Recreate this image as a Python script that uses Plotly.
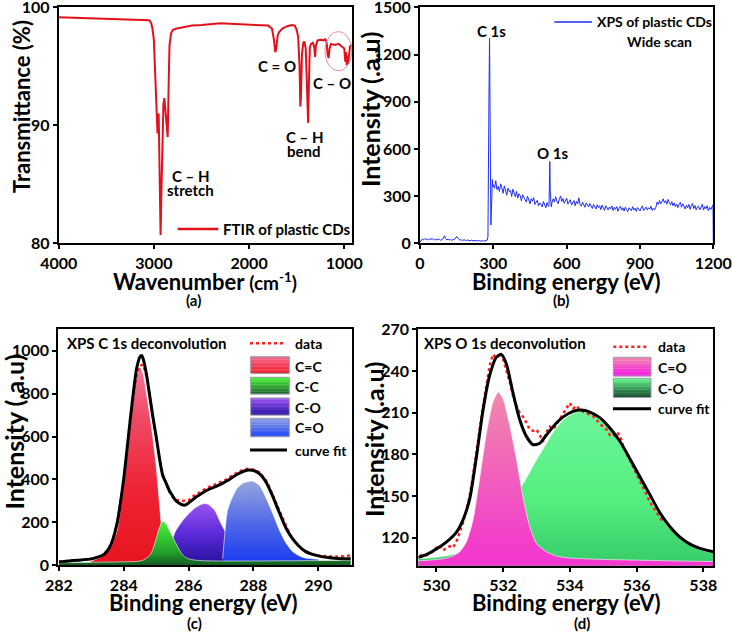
import plotly.graph_objects as go

W, H = 732, 633
FONT = "Lato"

# ---------------- DATA ----------------
# (a) FTIR spectrum
ftir_wn = [4000, 3800, 3600, 3400, 3200, 3100, 3050, 3030, 3015, 3000, 2985, 2970, 2962, 2955,
           2950, 2940, 2930, 2922, 2912, 2900, 2890, 2880, 2868, 2855, 2845, 2836, 2820, 2800,
           2760, 2700, 2600, 2500, 2400, 2300, 2200, 2100, 2000, 1900, 1800, 1760, 1740, 1725,
           1715, 1700, 1685, 1650, 1600, 1550, 1520, 1500, 1485, 1470, 1462, 1455, 1445, 1430,
           1420, 1405, 1390, 1380, 1372, 1362, 1350, 1330, 1315, 1306, 1298, 1280, 1250, 1220,
           1200, 1185, 1175, 1165, 1155, 1140, 1100, 1060, 1030, 1000, 990, 982, 975, 968, 960,
           950, 940, 920]
ftir_t = [99.15, 99.1, 99.05, 99.0, 98.95, 98.95, 98.9, 98.7, 98.2, 97.2, 94.0, 90.5, 89.3, 90.8,
          91.0, 86.0, 80.7, 84.0, 89.5, 91.8, 92.3, 91.5, 90.0, 89.0, 93.5, 96.8, 97.8, 98.1,
          98.2, 98.3, 98.45, 98.5, 98.6, 98.65, 98.6, 98.55, 98.55, 98.5, 98.45, 98.2, 97.3, 96.2,
          96.5, 97.6, 97.9, 98.2, 98.4, 98.5, 98.45, 98.1, 97.5, 95.0, 91.6, 92.5, 96.0, 97.0,
          97.1, 96.5, 93.0, 90.2, 93.5, 96.6, 96.9, 97.0, 96.6, 95.8, 96.8, 97.2, 97.25, 97.2,
          97.3, 97.0, 96.0, 95.7, 96.5, 96.9, 96.8, 96.9, 96.7, 96.5, 95.4, 96.2, 95.1, 95.9, 95.2,
          96.4, 96.7, 96.8]

# (b) XPS wide scan
wide_be_1 = list(range(0, 280, 5))
wide_int_1 = [8, 20, 28, 22, 30, 24, 27, 21, 29, 25, 31, 22, 26, 20, 27, 23, 25, 19, 24, 30,
              48, 28, 22, 26, 21, 24, 19, 23, 25, 30, 44, 30, 24, 20, 23, 18, 22, 20, 17, 21,
              19, 16, 20, 18, 15, 19, 17, 14, 18, 16, 13, 17, 15, 14, 18, 20]
wide_be_2 = [278, 280, 282, 284.5, 286, 288, 290, 292, 294, 296, 298]
wide_int_2 = [40, 300, 900, 1305, 700, 150, 116, 200, 330, 405, 360]
wide_be_3 = list(range(300, 530, 5))
wide_int_3 = [372, 350, 398, 341, 362, 330, 378, 352, 318, 365,
              342, 306, 351, 329, 336, 298, 344, 312, 296, 330,
              287, 315, 303, 270, 309, 293, 281, 262, 300, 276,
              251, 284, 268, 290, 247, 262, 273, 238, 256, 249,
              231, 266, 242, 226, 259, 235]
wide_be_4 = [528, 530, 531, 533, 535, 537]
wide_int_4 = [245, 400, 519, 330, 240, 232]
wide_be_5 = list(range(540, 1200, 5))
wide_int_5 = [258, 283, 262, 297, 268, 252, 279, 301, 266, 284,
              254, 271, 288, 249, 262, 277, 243, 259, 272, 238,
              266, 251, 289, 246, 236, 261, 248, 229, 257, 244,
              232, 253, 240, 221, 247, 236, 218, 245, 227, 239,
              214, 243, 225, 209, 238, 226, 212, 231, 219, 237,
              208, 229, 215, 233, 204, 222, 236, 211, 226, 205,
              230, 214, 201, 226, 219, 207, 233, 212, 223, 203,
              228, 214, 205, 224, 238, 209, 221, 230, 212, 226,
              217, 235, 209, 224, 213, 229, 262, 248, 272, 251,
              266, 283, 257, 271, 248, 279, 259, 244, 265, 239,
              257, 233, 250, 227, 246, 261, 229, 251, 236, 218,
              242, 225, 247, 216, 238, 254, 221, 240, 213, 231,
              236, 214, 229, 248, 211, 233, 220, 239, 207, 228,
              215, 232]
wide_be_6 = [1199, 1200]
wide_int_6 = [245, 0]

# (c) XPS C 1s deconvolution
c1s_x = [round(282.0 + 0.1 * i, 1) for i in range(91)]
c1s_data = [16, 17, 18, 20, 21, 22, 24, 25, 27, 28, 30,
            34, 38, 44, 52, 68, 95, 140, 200, 290, 400,
            530, 670, 790, 890, 930, 935, 880, 790, 690, 590,
            495, 425, 380, 345, 320, 305, 302, 300, 302, 303,
            318, 328, 335, 345, 355, 362, 372, 376, 383, 388,
            395, 402, 415, 424, 430, 440, 446, 450, 448, 446,
            440, 432, 412, 392, 360, 325, 290, 252, 215, 180,
            150, 125, 105, 88, 75, 65, 58, 52, 48, 45,
            44, 42, 43, 41, 42, 40, 43, 41, 44, 48]
c1s_fit_x = [282.0, 282.3, 282.6, 283.0, 283.2, 283.4, 283.6, 283.8, 284.0, 284.1, 284.2, 284.3,
             284.4, 284.5, 284.55, 284.6, 284.7, 284.8, 284.9, 285.0, 285.1, 285.2, 285.3,
             285.4, 285.5, 285.6, 285.7, 285.8, 285.9, 286.0, 286.2, 286.4, 286.6, 286.8,
             287.0, 287.2, 287.4, 287.6, 287.8, 288.0, 288.2, 288.4, 288.6, 288.8, 289.0,
             289.2, 289.4, 289.6, 289.8, 290.0, 290.3, 290.6, 291.0]
c1s_fit_y = [16, 20, 24, 30, 38, 52, 95, 200, 405, 540, 680, 810, 920, 972, 978, 962, 890, 790,
             690, 600, 500, 420, 385, 350, 325, 302, 290, 282, 281, 290, 315, 335, 352, 365,
             378, 395, 415, 432, 443, 442, 425, 385, 320, 245, 175, 125, 90, 65, 52, 44, 36,
             32, 30]
cc_dbl_x = [283.0, 283.2, 283.4, 283.6, 283.8, 284.0, 284.1, 284.2, 284.3, 284.4, 284.5, 284.6,
            284.7, 284.8, 284.9, 285.0, 285.1, 285.2, 285.3, 285.4]
cc_dbl_y = [20, 32, 48, 85, 165, 380, 500, 640, 770, 880, 925, 890, 800, 700, 590, 460, 290,
            120, 40, 18]
cc_sgl_x = [282.0, 283.0, 284.0, 284.4, 284.6, 284.8, 284.9, 285.0, 285.1, 285.2, 285.3, 285.4,
            285.5, 285.6, 285.7, 285.8, 285.9, 286.0, 286.2, 286.5, 287.0, 288.0, 289.0, 290.0,
            291.0]
cc_sgl_y = [12, 14, 16, 18, 24, 45, 75, 125, 175, 205, 195, 165, 135, 105, 75, 52, 38, 30, 24,
            21, 20, 20, 21, 22, 24]
co_sgl_x = [285.4, 285.5, 285.6, 285.8, 286.0, 286.2, 286.4, 286.5, 286.6, 286.8, 287.0, 287.2,
            287.4, 287.6, 287.8, 288.0, 288.3, 288.6, 289.0]
co_sgl_y = [30, 120, 160, 205, 240, 268, 285, 288, 285, 258, 195, 140, 102, 75, 57, 46, 36, 30, 25]
co_dbl_x = [287.05, 287.1, 287.15, 287.2, 287.3, 287.5, 287.7, 287.9, 288.0, 288.2, 288.4, 288.6,
            288.8, 289.0, 289.2, 289.4, 289.6, 290.0]
co_dbl_y = [30, 120, 200, 255, 300, 360, 385, 392, 392, 370, 310, 240, 165, 105, 65, 45, 34, 28]

# (d) XPS O 1s deconvolution
o1s_x = [529.5, 529.6, 529.7, 529.8, 529.9, 530.0, 530.1, 530.2, 530.3, 530.4, 530.5, 530.6,
         530.7, 530.8, 530.9, 531.0, 531.1, 531.2, 531.3, 531.4, 531.5, 531.6, 531.7, 531.8,
         531.9, 532.0, 532.1, 532.2, 532.3, 532.4, 532.5, 532.6, 532.7, 532.8, 532.9, 533.0,
         533.1, 533.2, 533.3, 533.4, 533.5, 533.6, 533.7, 533.8, 533.9, 534.0, 534.1, 534.2,
         534.3, 534.4, 534.5, 534.6, 534.7, 534.8, 534.9, 535.0, 535.1, 535.2, 535.3, 535.4,
         535.5, 535.6, 535.7, 535.8, 535.9, 536.0, 536.1, 536.2, 536.3, 536.4, 536.5, 536.6,
         536.7, 536.8]
o1s_data = [107, 108, 107.5, 109, 110, 113, 114.5, 111, 112.5, 114, 113, 117,
            124, 131, 140, 150, 165, 180, 198, 215, 230, 244, 252, 249,
            253, 249, 240, 232, 222, 215, 210, 207, 203, 198, 197, 198,
            194, 189, 196, 200, 198, 202, 206, 210, 214, 217, 213, 215,
            212, 211, 210, 209, 207.5, 205, 202, 200, 198, 194, 193, 196,
            194, 186, 181, 176, 170, 166, 161, 156, 150, 146, 142, 138,
            134, 131]
o1s_fit_x = [529.46, 529.7, 530.0, 530.3, 530.6, 530.8, 531.0, 531.2, 531.4, 531.6, 531.8,
             531.95, 532.1, 532.3, 532.5, 532.7, 532.9, 533.1, 533.3, 533.5, 533.8, 534.1,
             534.35, 534.6, 534.9, 535.2, 535.5, 535.8, 536.1, 536.4, 536.7, 537.0, 537.3,
             537.6, 537.9, 538.3]
o1s_fit_y = [106, 108, 112, 117, 124, 133, 148, 178, 212, 237, 250, 252, 245, 224, 205, 193,
             187, 188, 194, 200, 207, 211, 212, 210.5, 206.5, 199, 189.5, 177, 164, 151, 138,
             128, 120.5, 115.5, 112.5, 110]
o_dbl_x = [529.46, 529.8, 530.2, 530.5, 530.7, 530.9, 531.1, 531.3, 531.5, 531.7, 531.86, 532.0,
           532.2, 532.4, 532.6, 532.8, 533.0, 533.3, 533.6, 534.0, 535.0, 536.0, 537.0, 538.3]
o_dbl_y = [103.5, 104, 105, 107, 110, 117, 133, 163, 195, 218, 225, 220, 201, 177, 149, 128,
           116, 110, 107, 105.5, 104.5, 104, 103.5, 103]
o_sgl_x = [529.46, 530.0, 530.5, 531.0, 531.5, 532.0, 532.5, 533.0, 533.3, 533.5, 533.8, 534.1,
           534.3, 534.6, 534.9, 535.2, 535.5, 535.8, 536.1, 536.4, 536.7, 537.0, 537.4, 537.8,
           538.3]
o_sgl_y = [105, 106, 108, 112, 125, 140, 155, 176, 188, 196, 205, 209.5, 211, 209.5, 205.5, 198,
           188.5, 176, 163, 148, 136, 126.5, 118, 112.5, 109]

# ---------------- FIGURE ----------------
def px(x):
    return x / W


def py(y):
    return 1 - y / H


fig = go.Figure()

# (a)
fig.add_trace(go.Scatter(x=ftir_wn, y=ftir_t, mode="lines", line=dict(color="#e3101c", width=2),
                         xaxis="x", yaxis="y"))

# (b)
wide_be = wide_be_1 + wide_be_2 + wide_be_3 + wide_be_4 + wide_be_5 + wide_be_6
wide_int = wide_int_1 + wide_int_2 + wide_int_3 + wide_int_4 + wide_int_5 + wide_int_6
fig.add_trace(go.Scatter(x=wide_be, y=wide_int, mode="lines", line=dict(color="#1f2cf5", width=1),
                         xaxis="x2", yaxis="y2"))

edge = "rgba(255,255,255,0.75)"


def comp(x, y, scale, xa, ya):
    return go.Scatter(x=x, y=y, mode="lines", fill="tozeroy",
                      line=dict(color=edge, width=0.8, shape="spline", smoothing=0.6),
                      fillgradient=dict(type="vertical", colorscale=scale),
                      xaxis=xa, yaxis=ya)


# (c)
sc_red = [[0, "#e8141e"], [0.4, "#ee2536"], [0.75, "#f04a66"], [1, "#f5789a"]]
sc_grn = [[0, "#145a24"], [0.3, "#22a02a"], [1, "#48f53a"]]
sc_pur = [[0, "#24109a"], [0.5, "#5a2ad8"], [1, "#9a52f0"]]
sc_blu = [[0, "#1838f0"], [0.5, "#5068e8"], [1, "#96a6dc"]]
fig.add_trace(comp(cc_dbl_x, cc_dbl_y, sc_red, "x3", "y3"))
fig.add_trace(comp(co_sgl_x, co_sgl_y, sc_pur, "x3", "y3"))
fig.add_trace(comp(co_dbl_x, co_dbl_y, sc_blu, "x3", "y3"))
fig.add_trace(comp(cc_sgl_x, cc_sgl_y, sc_grn, "x3", "y3"))
fig.add_trace(go.Scatter(x=c1s_x, y=c1s_data, mode="lines",
                         line=dict(color="#ff2020", width=2.5, dash="dot"), xaxis="x3", yaxis="y3"))
fig.add_trace(go.Scatter(x=c1s_fit_x, y=c1s_fit_y, mode="lines",
                         line=dict(color="black", width=3, shape="spline", smoothing=0.6),
                         xaxis="x3", yaxis="y3"))

# (d)
sc_pink = [[0, "#fa12e8"], [0.5, "#f23ccc"], [1, "#f08aab"]]
sc_grn2 = [[0, "#0a3418"], [0.2, "#136b35"], [0.45, "#33c865"], [0.7, "#55ee80"], [1, "#6cf59a"]]
fig.add_trace(comp(o_sgl_x, o_sgl_y, sc_grn2, "x4", "y4"))
fig.add_trace(comp(o_dbl_x, o_dbl_y, sc_pink, "x4", "y4"))
fig.add_trace(go.Scatter(x=o1s_x, y=o1s_data, mode="lines",
                         line=dict(color="#ff2020", width=2.5, dash="dot"), xaxis="x4", yaxis="y4"))
fig.add_trace(go.Scatter(x=o1s_fit_x, y=o1s_fit_y, mode="lines",
                         line=dict(color="black", width=3, shape="spline", smoothing=0.6),
                         xaxis="x4", yaxis="y4"))

tickfont = dict(family=FONT, size=16, color="black", weight="bold")
ax_common = dict(showline=True, linecolor="black", linewidth=2, mirror=True, ticks="outside",
                 ticklen=4, tickwidth=2, tickcolor="black", showgrid=False, zeroline=False,
                 tickfont=tickfont, automargin=False, ticklabeloverflow="allow")


def dom_x(a, b):
    return [px(a), px(b)]


def dom_y(top, bottom):
    return [py(bottom), py(top)]


layout = dict(
    width=W, height=H, margin=dict(l=0, r=0, t=0, b=0, autoexpand=False), showlegend=False,
    paper_bgcolor="white", plot_bgcolor="white", hovermode=False,
    xaxis=dict(ax_common, domain=dom_x(58.7, 352.3), range=[4000, 916],
               tickvals=[4000, 3000, 2000, 1000], anchor="y"),
    yaxis=dict(ax_common, domain=dom_y(7.3, 243.3), range=[80, 100], tickvals=[80, 90, 100],
               anchor="x"),
    xaxis2=dict(ax_common, domain=dom_x(420, 713.3), range=[0, 1200],
                tickvals=[0, 300, 600, 900, 1200], anchor="y2"),
    yaxis2=dict(ax_common, domain=dom_y(7.3, 243.3), range=[0, 1500],
                tickvals=[0, 300, 600, 900, 1200, 1500], anchor="x2"),
    xaxis3=dict(ax_common, domain=dom_x(58.3, 352.3), range=[281.98, 291.05],
                tickvals=[282, 284, 286, 288, 290], anchor="y3"),
    yaxis3=dict(ax_common, domain=dom_y(329.3, 565.3), range=[0, 1100],
                tickvals=[0, 200, 400, 600, 800, 1000], anchor="x3"),
    xaxis4=dict(ax_common, domain=dom_x(418.3, 713.3), range=[529.46, 538.3],
                tickvals=[530, 532, 534, 536, 538], anchor="y4"),
    yaxis4=dict(ax_common, domain=dom_y(329.3, 565.7), range=[100, 270],
                tickvals=[120, 150, 180, 210, 240, 270], anchor="x4"),
)
fig.update_layout(**layout)

annotations = []


def txt(t, x, y, size=15, xanchor="center", angle=0, weight="bold"):
    annotations.append(dict(text=t, x=px(x), y=py(y), xref="paper", yref="paper",
                            xanchor=xanchor, yanchor="middle", showarrow=False, textangle=angle,
                            font=dict(family=FONT, size=size, color="black", weight=weight)))


# (a) texts
txt("C = O", 276.7, 66)
txt("C – O", 331.7, 82.7)
txt("C – H", 304, 136.7)
txt("bend", 304, 151)
txt("C – H", 190, 176)
txt("stretch", 190, 190.5)
txt("FTIR of plastic CDs", 221, 229, size=15, xanchor="left")
txt("Transmittance (%)", 22, 107, size=22, angle=-90)
txt("Wavenumber <span style='font-size:19px'>(cm<sup>-1</sup>)</span>", 205, 281, size=22)
txt("(a)", 193, 300, size=15)
# (b) texts
txt("XPS of plastic CDs", 595.3, 22, size=14, xanchor="left")
txt("Wide scan", 659.3, 41.7, size=14)
txt("C 1s", 491, 30.7)
txt("O 1s", 552.7, 152.7)
txt("Intensity (.a.u)", 370, 110, size=25, angle=-90)
txt("Binding energy (eV)", 566, 281, size=22)
txt("(b)", 561, 300, size=15)
# (c) texts
txt("XPS C 1s deconvolution", 65, 343.3, size=15, xanchor="left")
for lab, yy in [("data", 343.3), ("C=C", 366), ("C-C", 386.7), ("C-O", 407.7), ("C=O", 428),
                ("curve fit", 450)]:
    txt(lab, 293.3, yy, size=14, xanchor="left")
txt("Intensity (.a.u)", 13.5, 432, size=25, angle=-90)
txt("Binding energy (eV)", 204, 602, size=22)
txt("(c)", 194, 623, size=15)
# (d) texts
txt("XPS O 1s deconvolution", 422, 343.3, size=15, xanchor="left")
for lab, yy in [("data", 346.7), ("C=O", 367.7), ("C-O", 388.3), ("curve fit", 408.7)]:
    txt(lab, 656, yy, size=14, xanchor="left")
txt("Intensity (.a.u)", 374, 440, size=25, angle=-90)
txt("Binding energy (eV)", 566, 602, size=22)
txt("(d)", 582, 623, size=15)

fig.update_layout(annotations=annotations)

shapes = []


def hline(x0, x1, y, color, width, dash="solid"):
    shapes.append(dict(type="line", xref="paper", yref="paper", x0=px(x0), x1=px(x1),
                       y0=py(y), y1=py(y), line=dict(color=color, width=width, dash=dash)))


def hexrgb(h):
    return tuple(int(h[i:i + 2], 16) for i in (1, 3, 5))


def swatch(x0, x1, y0, y1, ctop, cbot, n=12):
    t, b = hexrgb(ctop), hexrgb(cbot)
    step = (y1 - y0) / n
    for i in range(n):
        f = i / (n - 1)
        c = tuple(round(t[k] + (b[k] - t[k]) * f) for k in range(3))
        shapes.append(dict(type="rect", xref="paper", yref="paper", x0=px(x0), x1=px(x1),
                           y0=py(y0 + step * (i + 1) + 0.3), y1=py(y0 + step * i),
                           line=dict(width=0), fillcolor="rgb(%d,%d,%d)" % c))
    shapes.append(dict(type="rect", xref="paper", yref="paper", x0=px(x0), x1=px(x1),
                       y0=py(y1), y1=py(y0), line=dict(color="#9a9aa8", width=1)))


# legends
hline(177.7, 218.3, 229, "#e3101c", 2.5)
hline(554.3, 592, 22, "#1f2cf5", 1.5)
hline(250, 285, 343.3, "#ff2020", 2.5, "dot")
swatch(250.7, 289.3, 356.7, 373.3, "#f5688a", "#ee1c2a")
swatch(250.7, 289.3, 377.3, 394, "#4cf53a", "#1e6b2e")
swatch(250.7, 289.3, 398, 415, "#9a50f2", "#2a12a8")
swatch(250.7, 289.3, 418.3, 436.7, "#8e9fe0", "#2046f5")
hline(250, 287, 450, "black", 3)
hline(613.3, 648.7, 346.7, "#ff2020", 2.5, "dot")
swatch(613.3, 651, 357.3, 376, "#f085b0", "#f81ae4")
swatch(613.3, 651, 378.3, 397.3, "#64f58c", "#0e4a24")
hline(613, 651, 408.7, "black", 3)
# highlight ellipse in (a)
shapes.append(dict(type="circle", xref="paper", yref="paper", x0=px(325), x1=px(351.7),
                   y0=py(70.7), y1=py(31.7), line=dict(color="#f08a9a", width=1)))

fig.update_layout(shapes=shapes)

fig.write_html("out.html", config={"displayModeBar": False},
               post_script="document.body.style.margin='0';")
